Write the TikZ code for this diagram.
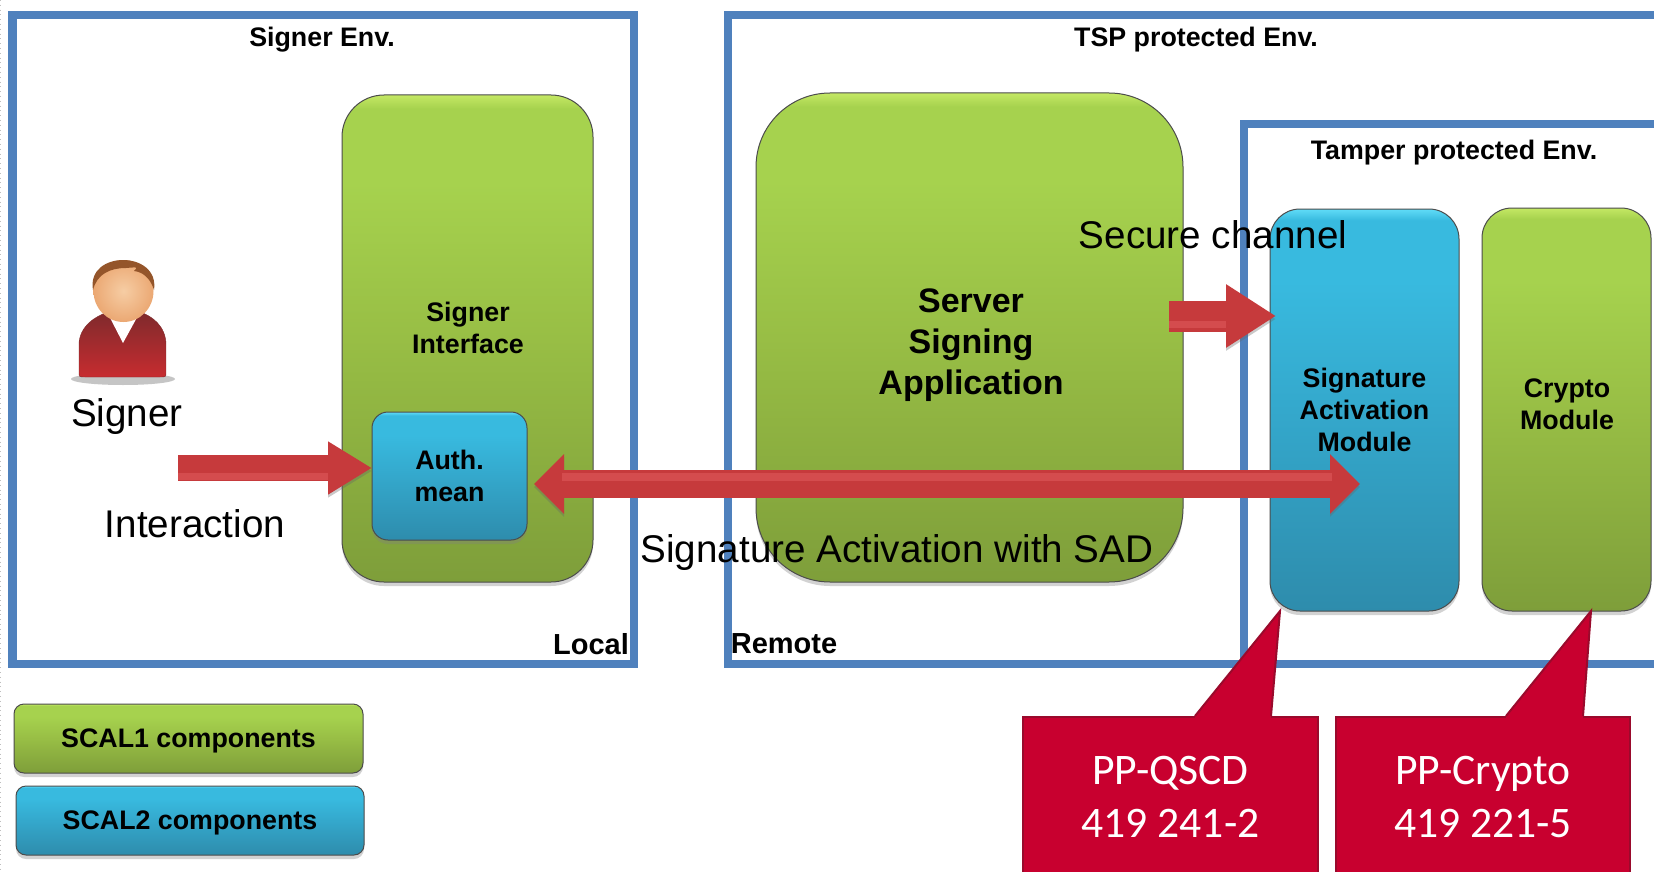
\documentclass[tikz,border=0pt]{standalone}
\usepackage{fontspec}
\usepackage{xcolor}
\usepackage{tikz}
\usetikzlibrary{arrows.meta,positioning,shadows}
\setmainfont{Liberation Sans}
\newfontfamily\callfont{Carlito}

\definecolor{envblue}{HTML}{4F81BD}
\definecolor{callred}{HTML}{C8002F}
\definecolor{calledge}{HTML}{9A0A2C}
\definecolor{arrowred}{HTML}{C63A3C}
\definecolor{arrowlight}{HTML}{D44C4E}
\definecolor{greenlow}{HTML}{7E9E3A}
\definecolor{greenmid}{HTML}{98BE45}
\definecolor{greentop}{HTML}{A6D24E}
\definecolor{greenrim}{HTML}{C4E864}
\definecolor{bluelow}{HTML}{2E8CAC}
\definecolor{bluemid}{HTML}{34A8CC}
\definecolor{bluetop}{HTML}{38BADF}
\definecolor{bluerim}{HTML}{60DCF8}
\definecolor{skinlight}{HTML}{F6CDA4}
\definecolor{skindark}{HTML}{EBA873}
\definecolor{hair}{HTML}{94552A}
\definecolor{knitdark}{HTML}{7F2A2C}
\definecolor{knitred}{HTML}{C72C30}

\pgfdeclareverticalshading{greenbox}{100bp}{color(0bp)=(greenlow);color(25bp)=(greenlow);color(50bp)=(greenmid);color(66bp)=(greentop);color(73.6bp)=(greentop);color(75bp)=(greenrim);color(100bp)=(greenrim)}
\pgfdeclareverticalshading{bluebox}{100bp}{color(0bp)=(bluelow);color(25bp)=(bluelow);color(50bp)=(bluemid);color(66bp)=(bluetop);color(73.6bp)=(bluetop);color(75bp)=(bluerim);color(100bp)=(bluerim)}

\begin{document}
\begin{tikzpicture}[x=0.5pt, y=-0.5pt,
	env/.style = {draw=envblue, line width=4.2pt, minimum width=#1, inner sep=0pt, outer sep=0pt},
	soft/.style = {draw=black!70, line width=0.5pt, drop shadow={shadow xshift=0pt, shadow yshift=-2pt, opacity=0.35}, inner sep=0pt, align=center},
	scalone/.style = {soft, shading=greenbox},
	scaltwo/.style = {soft, shading=bluebox},
	title/.style = {font=\fontsize{13.4}{16}\selectfont\bfseries, align=center, inner sep=0pt},
	big/.style = {font=\fontsize{19.3}{23}\selectfont, inner sep=0pt},
	callbox/.style = {fill=callred, draw=calledge, line width=1pt, text=white, align=center, inner sep=0pt, font=\callfont\fontsize{21.8}{26.3}\selectfont},
	callpoint/.style = {fill=callred},
	calledgeline/.style = {draw=calledge, line width=1pt},
	redarrow/.style = {draw=arrowred, line width=#1, preaction={draw=black!60, opacity=0.35, transform canvas={yshift=-1.5pt}}},
	glowup/.style = {postaction={draw=arrowlight, -, line width=4pt, shorten >=14pt, shorten <=14pt, transform canvas={yshift=3.5pt}}},
	glowdown/.style = {postaction={draw=arrowlight, -, line width=3.5pt, shorten >=#1, transform canvas={yshift=-4pt}}}
]
	\clip (0,0) rectangle (1654,872);
	\fill[white] (0,0) rectangle (1654,872);
	\draw[dotted, black!25] (0.5,0) -- (0.5,872);

	% environments
	\node[env=310.7pt, minimum height=324.5pt] (signerenv) at (323.3,339.5) {};
	\node[env=500pt, minimum height=324.5pt, anchor=north west] (tspenv) at (728,15) {};
	\node[env=250pt, minimum height=270pt, anchor=north west] (tamperenv) at (1244,124) {};
	\node[title] (signerenvt) at (322,40) {Signer Env.};
	\node[title] (tspenvt) at (1196,40) {TSP protected Env.};
	\node[title] (tamperenvt) at (1454,153) {Tamper protected Env.};
	\node[title, font=\fontsize{14.5}{16}\selectfont\bfseries] (local) at (591,644) {Local};
	\node[title, font=\fontsize{14.5}{16}\selectfont\bfseries] (remote) at (784,644) {Remote};

	% signer
	\fill[black!45, opacity=0.5] (123,379) ellipse [x radius=52, y radius=6];
	\shade[top color=knitdark, bottom color=knitred, draw=knitdark, line width=0.2pt] (79,372) -- (79,345) .. controls (79,326) and (96,316) .. (108,312) -- (140,312) .. controls (152,316) and (166,326) .. (166,345) -- (166,372) .. controls (166,377) .. (160,377) -- (85,377) .. controls (79,377) .. (79,372) -- cycle;
	\fill[white] (107,312) -- (123,343) -- (140,312) -- cycle;
	\shade[inner color=skinlight, outer color=skindark] (123.5,291) ellipse [x radius=30, y radius=31];
	\fill[hair] (93,290) .. controls (86,250) and (160,250) .. (154,290) .. controls (150,277) and (142,272) .. (134,271) .. controls (138,267) .. (126,268) .. controls (110,268) and (97,274) .. (93,290) -- cycle;
	\node[big] (signer) at (127,417) {Signer};
	\node[big] (interaction) at (195,524) {Interaction};

	% boxes
	\node[scalone, rounded corners=21pt, minimum width=125.5pt, minimum height=243.5pt] (si) at (467.5,338.5) {};
	\node[title] (sit) at (468,328) {Signer\\Interface};
	\node[scaltwo, rounded corners=8pt, minimum width=77.5pt, minimum height=64pt, font=\fontsize{13.4}{16}\selectfont\bfseries] (auth) at (449.5,476) {Auth.\\mean};
	\node[scalone, rounded corners=37pt, minimum width=213.5pt, minimum height=244.5pt] (ssa) at (969.5,337.5) {};
	\node[title, font=\fontsize{17}{20.5}\selectfont\bfseries] (ssat) at (971,345) {Server\\Signing\\Application};
	\node[scaltwo, rounded corners=15pt, minimum width=94.5pt, minimum height=201pt, font=\fontsize{13.4}{16}\selectfont\bfseries] (sam) at (1364.5,410) {Signature\\Activation\\Module};
	\node[scalone, rounded corners=15pt, minimum width=84.5pt, minimum height=201.5pt] (crypto) at (1566.5,409.5) {};
	\node[title] (cryptot) at (1567,404) {Crypto\\Module};

	% legend
	\node[scalone, rounded corners=5pt, minimum width=174.5pt, minimum height=34.5pt, text depth=0pt, font=\fontsize{13.4}{16}\selectfont\bfseries] (scal1) at (188.5,738.5) {SCAL1 components};
	\node[scaltwo, rounded corners=5pt, minimum width=174pt, minimum height=34.5pt, text depth=0pt, font=\fontsize{13.4}{16}\selectfont\bfseries] (scal2) at (190,820.5) {SCAL2 components};

	% arrows
	\coordinate (intstart) at (178,468);
	\coordinate (intend) at (372,468);
	\coordinate (sadleft) at (534,484);
	\coordinate (sadright) at (1360,484);
	\coordinate (secstart) at (1169,316);
	\coordinate (secend) at (1276,316);
	\draw[redarrow=13pt, glowdown=22pt, -{Triangle[width=25pt, length=22pt]}] (intstart) -- (intend);
	\draw[redarrow=14pt, glowup, {Triangle[width=29pt, length=15pt]}-{Triangle[width=29pt, length=15pt]}] (sadleft) -- (sadright);
	\draw[redarrow=15.5pt, glowdown=25pt, -{Triangle[width=30pt, length=25pt]}] (secstart) -- (secend);
	\node[big] (secure) at (1213,235) {Secure channel};
	\node[big] (sad) at (897,553) {Signature Activation with SAD};

	% callouts
	\node[callbox, minimum width=147.5pt, minimum height=80pt] (qscd) at (1170.5,797) {PP-QSCD\\419 241-2};
	\coordinate (qscdtip) at (1280,611);
	\fill[callpoint] (1195,716) -- (qscdtip) -- (1271,716) -- (1271,720) -- (1195,720) -- cycle;
	\draw[calledgeline] (1195,716) -- (qscdtip) -- (1271,716);
	\node[callbox, minimum width=147pt, minimum height=80pt] (ppcrypto) at (1483,797) {PP-Crypto\\419 221-5};
	\coordinate (ppcryptotip) at (1591,611);
	\fill[callpoint] (1506,716) -- (ppcryptotip) -- (1583,716) -- (1583,720) -- (1506,720) -- cycle;
	\draw[calledgeline] (1506,716) -- (ppcryptotip) -- (1583,716);
\end{tikzpicture}
\end{document}
